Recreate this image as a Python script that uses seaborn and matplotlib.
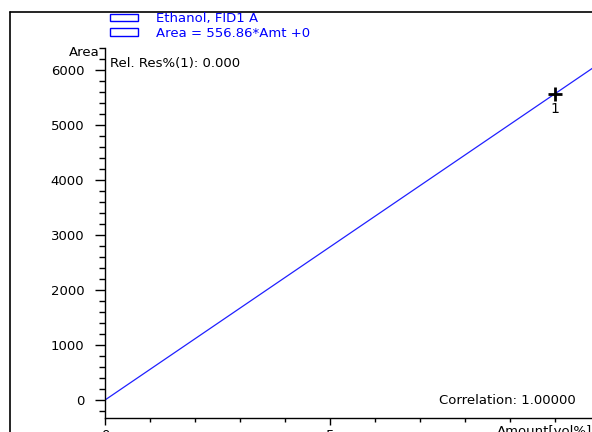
import matplotlib
matplotlib.use("Agg")
import matplotlib.pyplot as plt
import seaborn as sns
import pandas as pd
from matplotlib.lines import Line2D
from matplotlib.patches import Patch
from matplotlib.ticker import MultipleLocator

# calibration data
amount_pts = [10.0]
area_pts = [5568.6]
point_labels = ["1"]

# fitted line endpoints (Area = 556.86*Amt + 0)
fit_amount = [0.0, 11.0]
fit_area = [0.0, 6125.5]

legend_labels = ["Ethanol, FID1 A", "Area = 556.86*Amt +0"]
res_text = "Rel. Res%(1): 0.000"
corr_text = "Correlation: 1.00000"

sns.set_style("ticks")
plt.rcParams['font.family'] = ['DejaVu Sans']
fs = 9.5

fig = plt.figure(figsize=(5.92, 4.32), dpi=100)
ax = fig.add_axes([105 / 592, 14 / 432, 487 / 592, 370 / 432])

df_fit = pd.DataFrame({"Amount": fit_amount, "Area": fit_area})
df_pts = pd.DataFrame({"Amount": amount_pts, "Area": area_pts})

sns.lineplot(data=df_fit, x="Amount", y="Area", color="#2020ff", linewidth=0.9, ax=ax)
sns.scatterplot(data=df_pts, x="Amount", y="Area", marker="+", s=90, color="black",
                linewidth=2.0, ax=ax, zorder=5)
for xv, yv, lab in zip(amount_pts, area_pts, point_labels):
    ax.annotate(lab, (xv, yv), xytext=(0, -6), textcoords="offset points",
                ha="center", va="top", fontsize=fs + 0.5, color="black")

ax.set_xlim(0, 487 / 45)
ax.set_ylim(-327, 6400)

ax.yaxis.set_major_locator(MultipleLocator(1000))
ax.yaxis.set_minor_locator(MultipleLocator(200))
ax.tick_params(axis="y", which="major", length=7, width=1, color="black",
               labelsize=fs, labelcolor="black", pad=8)
ax.tick_params(axis="y", which="minor", length=4, width=1, color="black")
ax.tick_params(axis="x", which="major", length=5, width=1, color="black",
               labelsize=fs, labelcolor="black", pad=3)
ax.tick_params(axis="x", which="minor", length=3, width=1, color="black")
ax.set_xticks([0, 5])
ax.set_xticks([1, 2, 3, 4, 6, 7, 8, 9, 10], minor=True)

for side in ["top", "right"]:
    ax.spines[side].set_visible(False)
for side in ["left", "bottom"]:
    ax.spines[side].set_color("black")
    ax.spines[side].set_linewidth(1)

ax.set_xlabel("")
ax.set_ylabel("")
fig.text(100 / 592, 1 - 52 / 432, "Area", ha="right", va="center", fontsize=fs, color="black")
fig.text(497 / 592, 1 - 431 / 432, "Amount[vol%]", ha="left", va="center", fontsize=fs, color="black")

fig.text(110 / 592, 1 - 63 / 432, res_text, ha="left", va="center", fontsize=fs, color="black")
fig.text(576 / 592, 1 - 400 / 432, corr_text, ha="right", va="center", fontsize=fs, color="black")

handles = [Patch(facecolor="none", edgecolor="blue", linewidth=1) for _ in legend_labels]
leg = fig.legend(handles, legend_labels, loc="upper left", bbox_to_anchor=(101 / 592, 1 - 3 / 432),
                 frameon=False, fontsize=fs, handlelength=2.1, handleheight=0.5,
                 handletextpad=1.4, labelspacing=0.1, borderpad=0.2)
for t in leg.get_texts():
    t.set_color("blue")

# outer frame
fig.add_artist(Line2D([10 / 592, 10 / 592], [0, 420 / 432], color="black", linewidth=1.2))
fig.add_artist(Line2D([10 / 592, 1], [420 / 432, 420 / 432], color="black", linewidth=1.2))

fig.savefig("out.png", dpi=100)
